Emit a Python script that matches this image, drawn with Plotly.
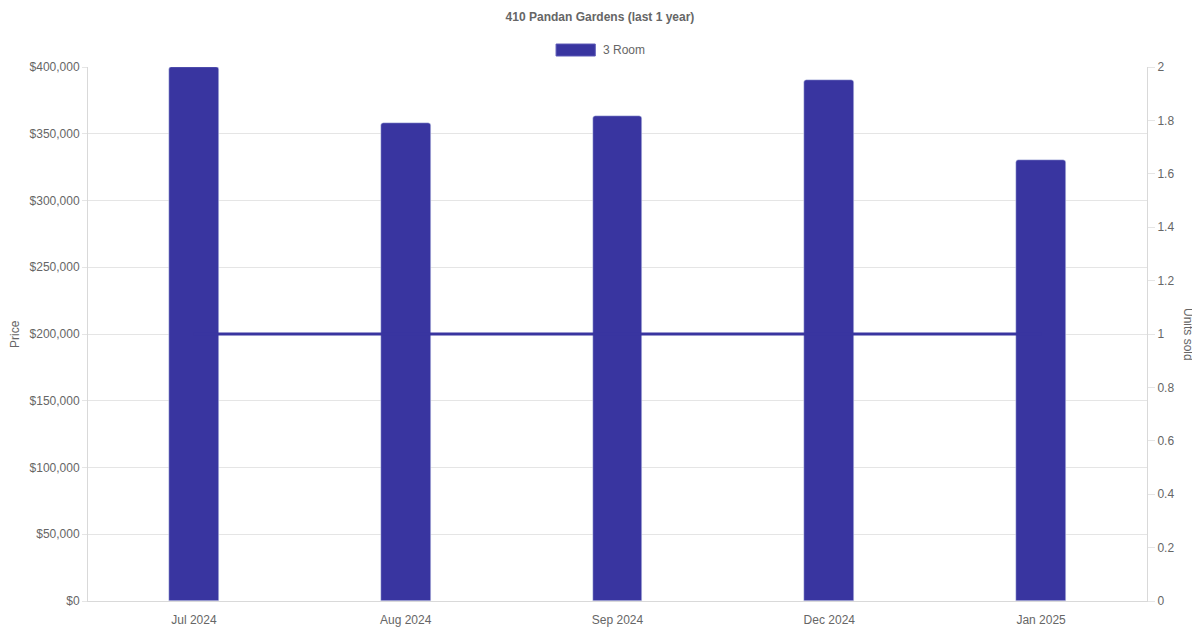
"""410 Pandan Gardens - resale price and units sold over the last year."""

import plotly.graph_objects as go

# ---- data --------------------------------------------------------------

MONTHS = ["Jul 2024", "Aug 2024", "Sep 2024", "Dec 2024", "Jan 2025"]
PRICE_3RM = [400000, 358000, 363000, 390000, 330000]
UNITS_3RM = [1, 1, 1, 1, 1]

PRICE_TICKS = [0, 50000, 100000, 150000, 200000, 250000, 300000, 350000, 400000]
UNITS_TICKS = [0, 0.2, 0.4, 0.6, 0.8, 1, 1.2, 1.4, 1.6, 1.8, 2]

BAR = "#3935a0"
GRID = "#e5e5e5"
TXT = "#666666"
FONT = "Liberation Sans, Arial, sans-serif"

# page body has an 8px margin, so the figure is sized to fit the rest
W, H = 1192, 622
PLOT_W = 1059

# ---- plot --------------------------------------------------------------

fig = go.Figure()
fig.add_trace(go.Bar(
    x=MONTHS, y=PRICE_3RM, name="3 Room",
    marker=dict(color=BAR, cornerradius=3),
    width=0.236, yaxis="y", showlegend=False,
))
fig.add_trace(go.Scatter(
    x=MONTHS, y=UNITS_3RM, mode="lines", name="3 Room",
    line=dict(color=BAR, width=3), yaxis="y2", showlegend=False,
))

# hand-made legend (wide box like the original)
fig.add_shape(type="rect", xref="paper", yref="paper",
              x0=0.442, x1=0.479, y0=1.0206, y1=1.043,
              fillcolor=BAR, line=dict(color="#5a57b5", width=1))
fig.add_annotation(text="3 Room", xref="paper", yref="paper",
                   x=0.484, y=1.032, xanchor="left", yanchor="middle",
                   showarrow=False, font=dict(size=12, color=TXT))

# axis titles (right one reads top-to-bottom)
fig.add_annotation(text="Price", xref="paper", yref="paper", textangle=-90,
                   x=(15 - 88) / PLOT_W, y=0.5, xanchor="center", yanchor="middle",
                   showarrow=False, font=dict(size=12, color=TXT))
fig.add_annotation(text="Units sold", xref="paper", yref="paper", textangle=90,
                   x=(1188 - 88) / PLOT_W, y=0.5, xanchor="center", yanchor="middle",
                   showarrow=False, font=dict(size=12, color=TXT))

fig.update_layout(
    title=dict(text="<b>410 Pandan Gardens (last 1 year)</b>", x=592 / W, xref="container",
               y=1 - 9 / H, yanchor="middle", font=dict(size=12, color=TXT)),
    width=W, height=H,
    margin=dict(l=80, r=53, t=59, b=29, autoexpand=False),
    plot_bgcolor="white", paper_bgcolor="white",
    font=dict(family=FONT, size=12, color=TXT),
    bargap=0,
    xaxis=dict(showgrid=False, showline=True, linecolor="#d9d9d9", automargin=False,
               ticks="outside", ticklen=8, tickcolor="rgba(0,0,0,0)",
               tickfont=dict(size=12, color=TXT)),
    yaxis=dict(range=[0, 400000], tickvals=PRICE_TICKS,
               ticktext=[f"${v:,}" for v in PRICE_TICKS],
               tickfont=dict(size=12, color=TXT),
               gridcolor=GRID, showline=True, linecolor="#d9d9d9", automargin=False,
               ticks="outside", ticklen=5, tickcolor=GRID,
               zeroline=False),
    yaxis2=dict(range=[0, 2], tickvals=UNITS_TICKS,
                ticktext=[f"{v:g}" for v in UNITS_TICKS],
                tickfont=dict(size=12, color=TXT),
                overlaying="y", side="right", showgrid=False, automargin=False,
                showline=True, linecolor="#d9d9d9",
                ticks="outside", ticklen=7, tickcolor=GRID, zeroline=False),
)

fig.write_html("out.html")
